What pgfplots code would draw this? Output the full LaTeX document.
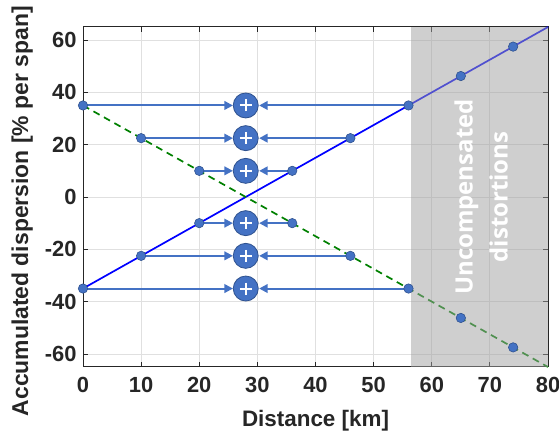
\documentclass[border=0pt]{standalone}
\usepackage{pgfplots}
\pgfplotsset{compat=1.18}
\usepackage{fontspec}
\setmainfont{Liberation Sans}
\newfontfamily\notefont{Open Sans}
\usetikzlibrary{arrows.meta}

\definecolor{office}{HTML}{4472C4}
\definecolor{officedark}{HTML}{2F528F}
\definecolor{txt}{HTML}{262626}
\definecolor{shadegray}{RGB}{160,160,160}
\definecolor{dgreen}{HTML}{008000}

\pgfplotsset{
  feed/.style={draw=office, line width=2bp, -{Triangle[length=8.5bp,width=8.5bp]}},
}

\begin{document}
\begin{tikzpicture}
\begin{axis}[
  scale only axis, width=465bp, height=340bp,
  xmin=0, xmax=80, ymin=-65, ymax=65,
  xtick={0,10,...,80}, ytick={-60,-40,...,60},
  yticklabels={-60,-40,-20,0,20,40,60},
  grid=major, grid style={draw=black!12, line width=0.8bp},
  tick align=inside, major tick length=5bp,
  tick style={draw=txt, line width=0.8bp},
  axis line style={draw=txt, line width=1bp},
  /pgf/number format/assume math mode=true,
  ticklabel style={font=\fontsize{22}{26}\selectfont\bfseries, text=txt},
  xticklabel style={yshift=-7bp},
  yticklabel style={xshift=-3bp},
  xlabel={Distance [km]},
  ylabel={Accumulated dispersion [\% per span]},
  xlabel style={font=\fontsize{22.5}{26}\selectfont\bfseries, text=txt,
    at={(axis description cs:0.5,-0.176)}, anchor=base},
  ylabel style={font=\fontsize{23}{27}\selectfont\bfseries, text=txt,
    at={(axis description cs:-0.118,0.458)}, anchor=base},
  clip=false,
]
% dispersion maps of the two fibre types
\addplot[draw=blue, line width=1.7bp] coordinates {(0,-35) (80,65)};
\addplot[draw=dgreen, line width=1.7bp, dash pattern=on 7bp off 5bp] coordinates {(0,35) (80,-65)};

% pairs combined at the midpoint
\addplot[feed] coordinates {(0,35) (25.8,35)};
\addplot[feed] coordinates {(10,22.5) (25.8,22.5)};
\addplot[feed] coordinates {(20,10) (25.8,10)};
\addplot[feed] coordinates {(20,-10) (25.8,-10)};
\addplot[feed] coordinates {(10,-22.5) (25.8,-22.5)};
\addplot[feed] coordinates {(0,-35) (25.8,-35)};
\addplot[feed] coordinates {(56,35) (30.3,35)};
\addplot[feed] coordinates {(46,22.5) (30.3,22.5)};
\addplot[feed] coordinates {(36,10) (30.3,10)};
\addplot[feed] coordinates {(36,-10) (30.3,-10)};
\addplot[feed] coordinates {(46,-22.5) (30.3,-22.5)};
\addplot[feed] coordinates {(56,-35) (30.3,-35)};

% sample points on both lines
\addplot[only marks, mark=*, mark size=4.7bp,
  mark options={fill=office, draw=officedark, line width=0.6bp}] coordinates {
  (0,-35) (10,-22.5) (20,-10) (36,10) (46,22.5) (56,35) (65,46.25) (74,57.5)
  (0,35) (10,22.5) (20,10) (36,-10) (46,-22.5) (56,-35) (65,-46.25) (74,-57.5)
};

% summing nodes
\addplot[only marks, mark=*, mark size=12.5bp,
  mark options={fill=office, draw=officedark, line width=0.8bp}] coordinates {
  (28,35) (28,22.5) (28,10) (28,-10) (28,-22.5) (28,-35)
};
\addplot[only marks, mark=+, mark size=6bp,
  mark options={draw=white, line width=2bp}] coordinates {
  (28,35) (28,22.5) (28,10) (28,-10) (28,-22.5) (28,-35)
};

% region beyond the compensated span
\addplot[draw=none, fill=shadegray, fill opacity=0.5] coordinates {
  (56.5,-65) (80,-65) (80,65) (56.5,65)
} -- cycle;
\node[rotate=90, text=white, align=center,
  font=\notefont\bfseries\fontsize{24}{35}\selectfont] at (axis cs:68.5,0)
  {Uncompensated\\distortions};
\end{axis}
\pgfresetboundingbox
\path ([shift={(-83bp,-69bp)}]current axis.south west)
  rectangle ([shift={(11bp,27bp)}]current axis.north east);
\end{tikzpicture}
\end{document}
